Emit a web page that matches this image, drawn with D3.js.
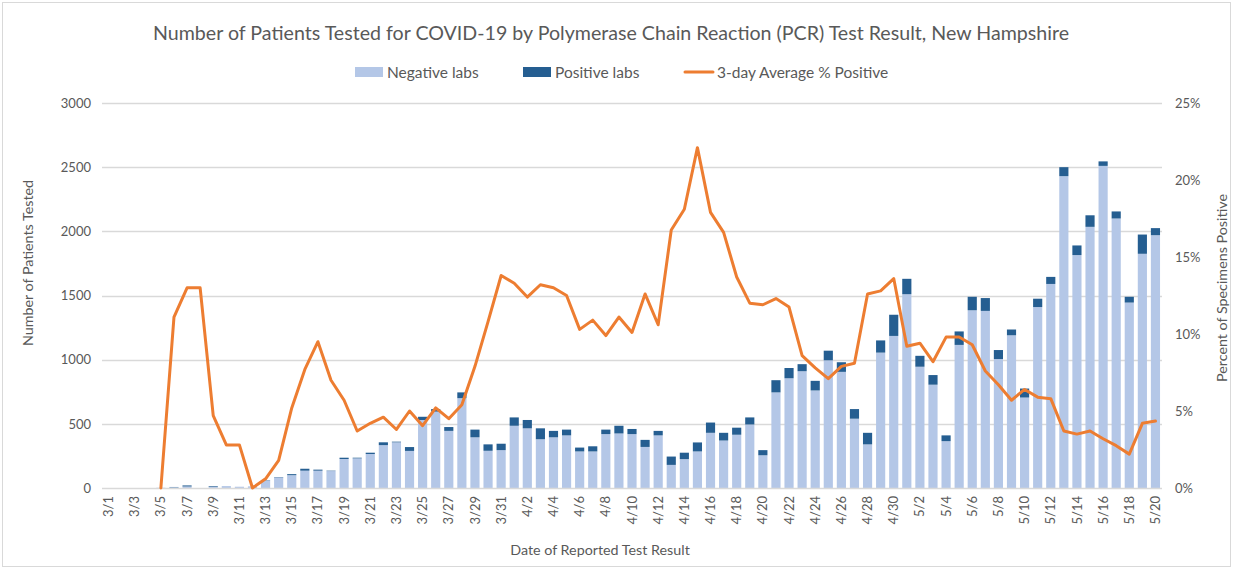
<!DOCTYPE html>
<html>
<head>
<meta charset="utf-8">
<script src="https://cdn.jsdelivr.net/npm/d3@7/dist/d3.min.js"></script>
<style>
  html, body { margin: 0; padding: 0; background: #fff; }
  svg { display: block; font-family: Lato, "Open Sans", sans-serif; }
</style>
</head>
<body>
<svg id="chart" width="1233" height="569"></svg>
<script>
// ---- Data ----
const dates = [
  "3/1","3/2","3/3","3/4","3/5","3/6","3/7","3/8","3/9","3/10",
  "3/11","3/12","3/13","3/14","3/15","3/16","3/17","3/18","3/19","3/20",
  "3/21","3/22","3/23","3/24","3/25","3/26","3/27","3/28","3/29","3/30","3/31",
  "4/1","4/2","4/3","4/4","4/5","4/6","4/7","4/8","4/9","4/10",
  "4/11","4/12","4/13","4/14","4/15","4/16","4/17","4/18","4/19","4/20",
  "4/21","4/22","4/23","4/24","4/25","4/26","4/27","4/28","4/29","4/30",
  "5/1","5/2","5/3","5/4","5/5","5/6","5/7","5/8","5/9","5/10",
  "5/11","5/12","5/13","5/14","5/15","5/16","5/17","5/18","5/19","5/20"
];
const negativeLabs = [
  0,0,0,0,2,5,12,0,10,15,
  10,13,57,82,100,135,135,132,226,231,
  265,334,356,289,530,595,445,700,395,290,295,
  485,465,380,395,410,285,285,420,425,420,
  320,410,180,225,285,430,370,415,495,255,
  745,855,910,760,995,905,540,340,1055,1185,
  1510,945,805,365,1115,1385,1380,1005,1190,705,
  1410,1590,2430,1815,2035,2510,2100,1445,1825,1970
];
const positiveLabs = [
  0,0,0,0,0,3,8,0,5,0,
  0,0,3,3,8,15,8,3,10,5,
  10,22,5,30,25,20,30,45,60,50,50,
  65,65,85,50,45,30,40,35,60,40,
  55,35,65,50,70,80,60,55,55,40,
  95,80,55,75,75,75,75,90,95,165,
  120,85,75,45,105,105,100,70,45,70,
  65,55,70,75,90,35,55,45,150,55
];
const avgPctPositive = [
  null,null,null,null,0,11.1,13.0,13.0,4.7,2.8,
  2.8,0,0.6,1.8,5.2,7.7,9.5,7.0,5.7,3.7,
  4.2,4.6,3.8,5.0,4.05,5.2,4.5,5.4,7.9,10.8,13.8,
  13.3,12.4,13.2,13.0,12.5,10.3,10.9,9.9,11.1,10.1,
  12.6,10.6,16.75,18.1,22.1,17.9,16.6,13.7,12.0,11.9,
  12.3,11.75,8.6,7.8,7.1,7.9,8.1,12.6,12.8,13.6,
  9.2,9.4,8.2,9.8,9.8,9.3,7.6,6.7,5.7,6.4,
  5.9,5.8,3.7,3.5,3.7,3.2,2.75,2.2,4.2,4.35
];
const leftTicks = [0, 500, 1000, 1500, 2000, 2500, 3000];
const rightTicks = [0, 5, 10, 15, 20, 25];
const titleText = "Number of Patients Tested for COVID-19 by Polymerase Chain Reaction (PCR) Test Result, New Hampshire";
const legendLabels = ["Negative labs", "Positive labs", "3-day Average % Positive"];

// ---- Layout ----
const W = 1233, H = 569;
const plot = { left: 102, right: 1162, top: 103, bottom: 488 };
const colNeg = "#b4c7e7", colPos = "#255e91", colLine = "#ed7d31";
const textCol = "#595959";

const svg = d3.select("#chart");
svg.append("rect").attr("x", 0).attr("y", 0).attr("width", W).attr("height", H).attr("fill", "#fff");
svg.append("rect").attr("x", 2.5).attr("y", 2.5).attr("width", W - 5).attr("height", H - 5)
  .attr("fill", "none").attr("stroke", "#d9d9d9").attr("stroke-width", 1);

const x = d3.scaleBand().domain(dates).range([plot.left, plot.right]).paddingInner(0.3).paddingOuter(0.15);
const y = d3.scaleLinear().domain([0, 3000]).range([plot.bottom, plot.top]);
const y2 = d3.scaleLinear().domain([0, 25]).range([plot.bottom, plot.top]);

// Gridlines
const grid = svg.append("g");
grid.selectAll("line").data(leftTicks.filter(d => d > 0)).join("line")
  .attr("x1", plot.left).attr("x2", plot.right)
  .attr("y1", d => Math.round(y(d)) + 0.5).attr("y2", d => Math.round(y(d)) + 0.5)
  .attr("stroke", "#d9d9d9").attr("stroke-width", 1.5);

// Bars
const rows = dates.map((d, i) => ({ date: d, neg: negativeLabs[i], pos: positiveLabs[i] }));
const stack = d3.stack().keys(["neg", "pos"])(rows);
const colors = { neg: colNeg, pos: colPos };
const bars = svg.append("g");
stack.forEach(layer => {
  bars.append("g").attr("fill", colors[layer.key])
    .selectAll("rect").data(layer).join("rect")
    .attr("x", d => x(d.data.date))
    .attr("width", x.bandwidth())
    .attr("y", d => y(d[1]))
    .attr("height", d => Math.max(0, y(d[0]) - y(d[1])));
});

// Baseline axis line
svg.append("line").attr("x1", plot.left).attr("x2", plot.right)
  .attr("y1", plot.bottom + 0.5).attr("y2", plot.bottom + 0.5)
  .attr("stroke", "#d9d9d9").attr("stroke-width", 1.5);

// Line
const line = d3.line()
  .defined(d => d != null)
  .x((d, i) => x(dates[i]) + x.bandwidth() / 2)
  .y(d => y2(d));
svg.append("path").datum(avgPctPositive)
  .attr("d", line).attr("fill", "none").attr("stroke", colLine)
  .attr("stroke-width", 3).attr("stroke-linejoin", "round").attr("stroke-linecap", "round");

// Left axis
const yAxis = d3.axisLeft(y).tickValues(leftTicks).tickSize(0).tickPadding(0).tickFormat(d3.format("d"));
const gy = svg.append("g").attr("transform", `translate(${plot.left - 11},0)`).call(yAxis);
gy.select(".domain").remove();
gy.selectAll("text").attr("fill", textCol).style("font-size", "13px").style("font-family", "Lato, sans-serif");

// Right axis
const y2Axis = d3.axisRight(y2).tickValues(rightTicks).tickSize(0).tickPadding(0).tickFormat(d => d + "%");
const gy2 = svg.append("g").attr("transform", `translate(${plot.right + 13},0)`).call(y2Axis);
gy2.select(".domain").remove();
gy2.selectAll("text").attr("fill", textCol).style("font-size", "13px").style("font-family", "Lato, sans-serif");

// X axis labels (every other date)
const xAxis = d3.axisBottom(x).tickValues(dates.filter((d, i) => i % 2 === 0)).tickSize(0).tickPadding(0);
const gx = svg.append("g").attr("transform", `translate(0,${plot.bottom})`).call(xAxis);
gx.select(".domain").remove();
gx.selectAll("text")
  .attr("fill", textCol).style("font-size", "13px").style("font-family", "Lato, sans-serif")
  .attr("text-anchor", "end")
  .attr("dy", "0.35em")
  .attr("y", 0)
  .attr("transform", "translate(0,8) rotate(-90)");

// Axis titles
svg.append("text").attr("x", 600).attr("y", 555).attr("text-anchor", "middle")
  .attr("fill", textCol).style("font-size", "14.3px").text("Date of Reported Test Result");
svg.append("text").attr("transform", "translate(33,263) rotate(-90)").attr("text-anchor", "middle")
  .attr("fill", textCol).style("font-size", "14.3px").text("Number of Patients Tested");
svg.append("text").attr("transform", "translate(1227,288) rotate(-90)").attr("text-anchor", "middle")
  .attr("fill", textCol).style("font-size", "14.3px").text("Percent of Specimens Positive");

// Title (fit to reference width)
const title = svg.append("text").attr("x", 611).attr("y", 40).attr("text-anchor", "middle")
  .attr("fill", textCol).style("font-size", "18px").text(titleText);
const tw = title.node().getComputedTextLength();
title.style("font-size", (18 * 917 / tw).toFixed(2) + "px");

// Legend
const lg = svg.append("g").style("font-size", "15.5px");
lg.append("rect").attr("x", 355).attr("y", 67).attr("width", 28).attr("height", 10).attr("fill", colNeg);
lg.append("text").attr("x", 387).attr("y", 77.5).attr("fill", textCol).text(legendLabels[0]);
lg.append("rect").attr("x", 523).attr("y", 67).attr("width", 28).attr("height", 10).attr("fill", colPos);
lg.append("text").attr("x", 555).attr("y", 77.5).attr("fill", textCol).text(legendLabels[1]);
lg.append("line").attr("x1", 685).attr("x2", 713).attr("y1", 72).attr("y2", 72)
  .attr("stroke", colLine).attr("stroke-width", 3).attr("stroke-linecap", "round");
lg.append("text").attr("x", 717).attr("y", 77.5).attr("fill", textCol).text(legendLabels[2]);
</script>
</body>
</html>
